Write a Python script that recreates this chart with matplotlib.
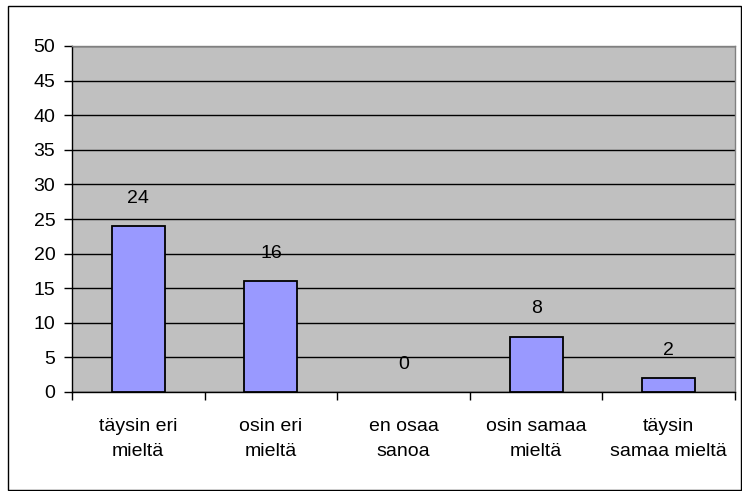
import matplotlib.pyplot as plt
from matplotlib.patches import Rectangle

categories = ["täysin eri\nmieltä", "osin eri\nmieltä", "en osaa\nsanoa",
              "osin samaa\nmieltä", "täysin\nsamaa mieltä"]
counts = [24, 16, 0, 8, 2]
y_ticks = [0, 5, 10, 15, 20, 25, 30, 35, 40, 45, 50]

plt.rcParams['font.family'] = ['Liberation Sans', 'DejaVu Sans']
plt.rcParams['font.size'] = 14

fig = plt.figure(figsize=(7.42, 4.91), dpi=100)
ax = fig.add_axes([72 / 742, 1 - 392 / 491, (735 - 72) / 742, (392 - 46) / 491])

ax.set_facecolor('#c0c0c0')
x = list(range(len(counts)))
bars = ax.bar(x, counts, width=0.4, color='#9999ff', edgecolor='black',
              linewidth=1.3, zorder=3)
for b, v in zip(bars, counts):
    if v == 0:
        b.set_visible(False)
for xi, v in zip(x, counts):
    ax.annotate(str(v), (xi, v), xytext=(0, 20), textcoords='offset points',
                ha='center', va='center', fontsize=14)

ax.set_xlim(-0.5, len(counts) - 0.5)
ax.set_ylim(0, 50)
ax.set_yticks(y_ticks)
ax.yaxis.grid(True, color='black', linewidth=1.0, zorder=1)
ax.set_axisbelow(True)

# category labels between tick marks at the boundaries
ax.set_xticks(x)
ax.set_xticklabels(categories, linespacing=1.55)
ax.tick_params(axis='x', length=0, pad=19)
ax.set_xticks([i - 0.5 for i in range(len(counts) + 1)], minor=True)
ax.tick_params(axis='x', which='minor', length=6, width=1, color='black')
ax.tick_params(axis='y', length=6, width=1, color='black', pad=6)

for side in ('top', 'right'):
    ax.spines[side].set_color('#808080')
    ax.spines[side].set_linewidth(1.0)
for side in ('left', 'bottom'):
    ax.spines[side].set_color('black')
    ax.spines[side].set_linewidth(1.0)

# outer chart border
fig.patches.append(Rectangle((8 / 742, 1 / 491), (741 - 8) / 742, (490 - 6) / 491,
                             transform=fig.transFigure, fill=False,
                             edgecolor='black', linewidth=1.0))

fig.savefig('out.png', dpi=100)
